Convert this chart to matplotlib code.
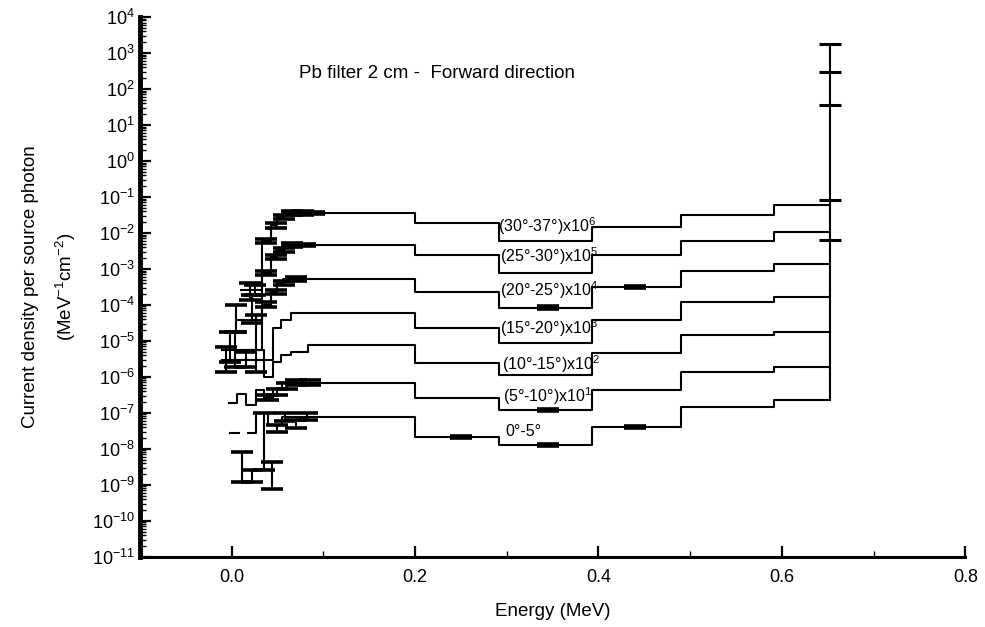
import numpy as np
import matplotlib
matplotlib.use("Agg")
import matplotlib.pyplot as plt
from matplotlib.ticker import LogLocator, FixedLocator, FormatStrFormatter, NullFormatter

plt.rcParams['font.family'] = ['Liberation Sans', 'DejaVu Sans']
plt.rcParams['mathtext.fontset'] = 'custom'
plt.rcParams['mathtext.rm'] = 'Liberation Sans'
plt.rcParams['mathtext.default'] = 'regular'
plt.rcParams['axes.unicode_minus'] = False

# bin edges (MeV) and current density for every angular band
edges_30_37 = [0.01, 0.033, 0.043, 0.05, 0.056, 0.2, 0.292, 0.393, 0.49, 0.591, 0.652]
vals_30_37 = [2.6e-4, 6.0e-3, 1.66e-2, 2.8e-2, 3.6e-2, 1.9e-2, 6.0e-3, 1.47e-2, 3.2e-2, 6.0e-2]

edges_25_30 = [0.005, 0.033, 0.043, 0.05, 0.056, 0.2, 0.292, 0.393, 0.49, 0.591, 0.652]
vals_25_30 = [3.8e-5, 7.8e-4, 2.15e-3, 3.4e-3, 4.6e-3, 2.45e-3, 7.8e-4, 2.45e-3, 6.0e-3, 1.07e-2]

edges_20_25 = [0.0, 0.033, 0.043, 0.05, 0.056, 0.2, 0.292, 0.393, 0.49, 0.591, 0.652]
vals_20_25 = [5.6e-6, 1.0e-4, 2.3e-4, 4.1e-4, 5.3e-4, 2.3e-4, 8.3e-5, 3.2e-4, 8.8e-4, 1.38e-3]

edges_15_20 = [-0.01, 0.045, 0.054, 0.065, 0.2, 0.292, 0.393, 0.49, 0.591, 0.652]
vals_15_20 = [2.95e-6, 2.3e-5, 3.8e-5, 6.0e-5, 2.3e-5, 8.8e-6, 3.8e-5, 1.2e-4, 1.66e-4]

edges_10_15 = [-0.01, 0.035, 0.045, 0.054, 0.065, 0.083, 0.2, 0.292, 0.393, 0.49, 0.591, 0.652]
vals_10_15 = [5.6e-6, 1.0e-6, 2.6e-6, 4.1e-6, 4.9e-6, 7.8e-6, 2.45e-6, 1.14e-6, 4.6e-6, 1.47e-5, 1.78e-5]

edges_5_10 = [-0.003, 0.006, 0.016, 0.027, 0.035, 0.045, 0.055, 0.2, 0.292, 0.393, 0.49, 0.591, 0.652]
vals_5_10 = [1.9e-7, 3.4e-7, 1.66e-7, 4.4e-7, 2.6e-7, 4.6e-7, 6.8e-7, 2.6e-7, 1.2e-7, 4.4e-7, 1.38e-6, 1.9e-6]

edges_0_5 = [-0.002, 0.008, 0.018, 0.027, 0.04, 0.055, 0.2, 0.292, 0.393, 0.49, 0.591, 0.652]
vals_0_5 = [2.8e-8, np.nan, 2.8e-8, 1.0e-7, 4.6e-8, 7.8e-8, 2.15e-8, 1.3e-8, 4.1e-8, 1.47e-7, 2.3e-7]

# error bars (energy, lower, upper)
err_x_30_37 = [0.02, 0.038, 0.048, 0.057, 0.066, 0.078, 0.09]
err_lo_30_37 = [1.38e-4, 5.3e-3, 1.4e-2, 2.5e-2, 3.2e-2, 3.2e-2, 3.3e-2]
err_hi_30_37 = [4.1e-4, 6.8e-3, 1.9e-2, 3.1e-2, 4.0e-2, 4.0e-2, 3.9e-2]

err_x_25_30 = [0.005, 0.026, 0.038, 0.048, 0.057, 0.066, 0.08]
err_lo_25_30 = [1.78e-5, 1.9e-4, 6.8e-4, 1.9e-3, 3.0e-3, 4.1e-3, 4.2e-3]
err_hi_25_30 = [1.0e-4, 3.6e-4, 8.8e-4, 2.4e-3, 3.8e-3, 5.2e-3, 5.0e-3]

err_x_20_25 = [-0.002, 0.022, 0.038, 0.048, 0.057, 0.07, 0.345, 0.44]
err_lo_20_25 = [2.6e-6, 3.2e-5, 8.8e-5, 2.0e-4, 3.6e-4, 4.6e-4, 7.6e-5, 3.0e-4]
err_hi_20_25 = [1.78e-5, 1.9e-4, 1.2e-4, 2.6e-4, 4.6e-4, 6.0e-4, 9.0e-5, 3.4e-4]

err_x_15_20 = [-0.006, 0.016]
err_lo_15_20 = [1.38e-6, 1.9e-6]
err_hi_15_20 = [6.8e-6, 4.9e-6]

err_x_10_15 = [0.004, 0.027]
err_lo_10_15 = [1.9e-6, 1.38e-6]
err_hi_10_15 = [1.78e-5, 5.3e-5]

err_x_5_10 = [0.04, 0.05, 0.06, 0.07, 0.085, 0.345]
err_lo_5_10 = [2.3e-7, 3.2e-7, 4.6e-7, 6.0e-7, 6.0e-7, 1.1e-7]
err_hi_5_10 = [3.2e-7, 4.6e-7, 6.8e-7, 8.3e-7, 8.3e-7, 1.3e-7]

err_x_0_5 = [0.011, 0.022, 0.035, 0.044, 0.05, 0.058, 0.07, 0.082, 0.25, 0.345, 0.44]
err_lo_0_5 = [1.2e-9, 1.2e-9, 2.6e-9, 7.8e-10, 3.0e-8, 6.0e-8, 3.8e-8, 6.4e-8, 2.0e-8, 1.2e-8, 3.8e-8]
err_hi_0_5 = [8.3e-9, 2.6e-9, 1.0e-7, 4.4e-9, 4.6e-8, 1.0e-7, 6.4e-8, 1.0e-7, 2.3e-8, 1.4e-8, 4.4e-8]

# 662 keV line and its error bar marks
line_energy = 0.652
line_bottom = 2.3e-7
line_caps = [1.8e3, 3.0e2, 36, 8.3e-2, 6.4e-3]

labels = ["(30°-37°)x10$^6$", "(25°-30°)x10$^5$", "(20°-25°)x10$^4$", "(15°-20°)x10$^3$",
          "(10°-15°)x10$^2$", "(5°-10°)x10$^1$", "0°-5°"]
label_x = [0.291, 0.293, 0.293, 0.293, 0.295, 0.296, 0.299]
label_y = [1.55e-2, 2.3e-3, 2.6e-4, 2.3e-5, 2.3e-6, 2.95e-7, 3.0e-8]

all_edges = [edges_30_37, edges_25_30, edges_20_25, edges_15_20, edges_10_15, edges_5_10, edges_0_5]
all_vals = [vals_30_37, vals_25_30, vals_20_25, vals_15_20, vals_10_15, vals_5_10, vals_0_5]
all_err = [(err_x_30_37, err_lo_30_37, err_hi_30_37), (err_x_25_30, err_lo_25_30, err_hi_25_30),
           (err_x_20_25, err_lo_20_25, err_hi_20_25), (err_x_15_20, err_lo_15_20, err_hi_15_20),
           (err_x_10_15, err_lo_10_15, err_hi_10_15), (err_x_5_10, err_lo_5_10, err_hi_5_10),
           (err_x_0_5, err_lo_0_5, err_hi_0_5)]

fig = plt.figure(figsize=(9.85, 6.27), dpi=100)
ax = fig.add_axes([0.142, 0.112, 0.838, 0.861])

cap = 0.012
for edges, vals in zip(all_edges, all_vals):
    ax.step(edges, list(vals) + [vals[-1]], where="post", color="black", lw=1.5)

for ex, lo, hi in all_err:
    ax.vlines(ex, lo, hi, color="black", lw=1.5)
    ax.hlines(lo, np.array(ex) - cap, np.array(ex) + cap, color="black", lw=2.6)
    ax.hlines(hi, np.array(ex) - cap, np.array(ex) + cap, color="black", lw=2.6)

ax.vlines(line_energy, line_bottom, line_caps[0], color="black", lw=1.5)
ax.hlines(line_caps, line_energy - cap, line_energy + cap, color="black", lw=2.2)

for txt, lx, ly in zip(labels, label_x, label_y):
    ax.text(lx, ly, txt, fontsize=11.5, va="center", ha="left")

ax.text(0.073, 2.7e2, "Pb filter 2 cm -  Forward direction", fontsize=13.5, va="center")

ax.set_yscale("log")
ax.set_ylim(1e-11, 1e4)
ax.set_xlim(-0.1, 0.8)
ax.yaxis.set_major_locator(LogLocator(base=10, numticks=30))
ax.yaxis.set_minor_locator(LogLocator(base=10, subs=np.arange(2, 10), numticks=300))
ax.yaxis.set_minor_formatter(NullFormatter())
ax.xaxis.set_major_locator(FixedLocator([0.0, 0.2, 0.4, 0.6, 0.8]))
ax.xaxis.set_minor_locator(FixedLocator([0.1, 0.3, 0.5, 0.7]))
ax.xaxis.set_major_formatter(FormatStrFormatter("%.1f"))

ax.tick_params(axis="both", which="major", direction="in", length=8, width=1.6, labelsize=13)
ax.tick_params(axis="both", which="minor", direction="in", length=4, width=1.0)
ax.tick_params(axis="x", pad=9)

for s in ["top", "right"]:
    ax.spines[s].set_visible(False)
ax.spines["left"].set_linewidth(3.5)
ax.spines["bottom"].set_linewidth(2.2)

ax.set_xlabel("Energy (MeV)", fontsize=13.5, labelpad=12)
ax.set_ylabel("Current density per source photon\n(MeV$^{-1}$cm$^{-2}$)", fontsize=13.5, linespacing=1.8)
ax.yaxis.set_label_coords(-0.075, 0.5)

fig.savefig("out.png", dpi=100)
